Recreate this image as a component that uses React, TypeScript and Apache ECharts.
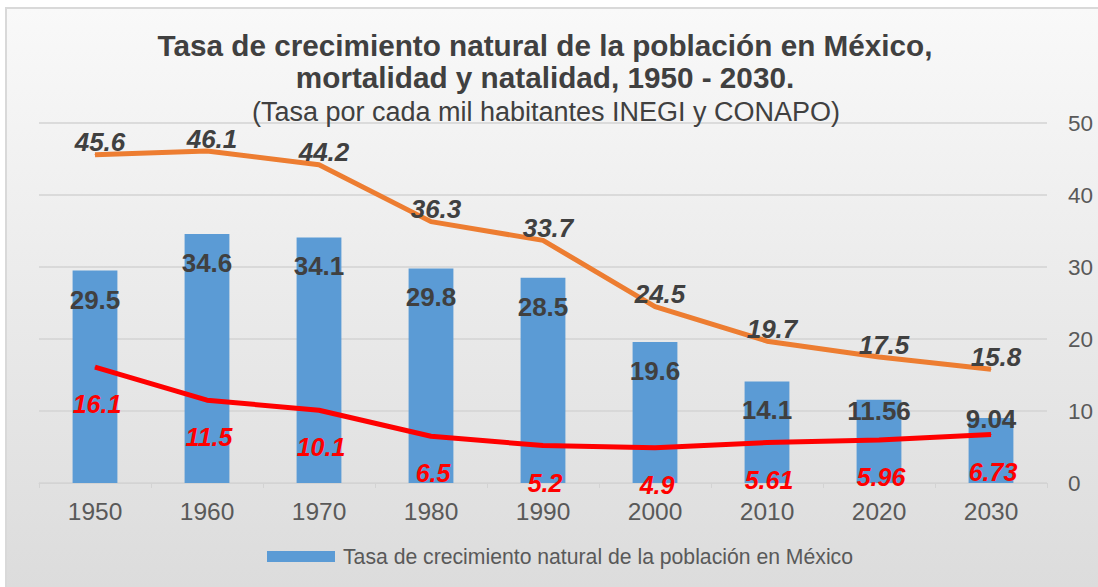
import { useEffect, useRef } from "react";
import * as echarts from "echarts";

const years = ["1950", "1960", "1970", "1980", "1990", "2000", "2010", "2020", "2030"];
const crecimiento = [29.5, 34.6, 34.1, 29.8, 28.5, 19.6, 14.1, 11.56, 9.04];
const natalidad = [45.6, 46.1, 44.2, 36.3, 33.7, 24.5, 19.7, 17.5, 15.8];
const mortalidad = [16.1, 11.5, 10.1, 6.5, 5.2, 4.9, 5.61, 5.96, 6.73];
const yMin = 0;
const yMax = 50;
const yStep = 10;

const titleLine = "Tasa de crecimiento natural de la población en México,\nmortalidad y natalidad, 1950 - 2030.";
const subtitle = "(Tasa por cada mil habitantes INEGI y CONAPO)";
const barName = "Tasa de crecimiento natural de la población en México";

// label vertical shifts (style) for bar labels
const barLabelShift = [0, 0, 0, 0, 0, 0, 0, -18, -28];

const FONT = "'Liberation Sans', Arial, sans-serif";

export default function App() {
  const ref = useRef<HTMLDivElement>(null);
  useEffect(() => {
    document.body.style.margin = "0";
    const chart = echarts.init(ref.current!, null, { renderer: "svg" });
    chart.setOption({
      animation: false,
      backgroundColor: "#ffffff",
      textStyle: { fontFamily: FONT },
      graphic: [
        {
          type: "rect",
          z: -100,
          silent: true,
          shape: { x: 6, y: 8, width: 1100, height: 600 },
          style: {
            fill: {
              type: "linear", x: 0, y: 0, x2: 0, y2: 1,
              colorStops: [
                { offset: 0, color: "#f9f9f9" },
                { offset: 1, color: "#dbdbdb" },
              ],
            },
            stroke: "#d9d9d9",
            lineWidth: 2,
          },
        },
      ],
      title: [
        {
          text: titleLine,
          left: 540,
          textAlign: "center",
          top: 24,
          textStyle: { fontFamily: FONT, fontSize: 29.7, fontWeight: "bold", color: "#404040", lineHeight: 32 },
        },
        {
          text: subtitle,
          left: 541,
          textAlign: "center",
          top: 93,
          textStyle: { fontFamily: FONT, fontSize: 27, fontWeight: "normal", color: "#404040", lineHeight: 28 },
        },
      ],
      legend: {
        data: [barName],
        left: 262,
        top: 541,
        itemWidth: 68,
        itemHeight: 11,
        icon: "rect",
        textStyle: { fontFamily: FONT, fontSize: 21.2, color: "#595959", padding: [0, 0, 0, 3] },
      },
      grid: { left: 39, right: 51, top: 123, bottom: 104, containLabel: false },
      xAxis: {
        type: "category",
        data: years,
        axisLine: { show: true, lineStyle: { color: "#d3d3d3", width: 1 } },
        axisTick: { show: true, length: 5, lineStyle: { color: "#d3d3d3" } },
        axisLabel: { fontFamily: FONT, fontSize: 24.5, color: "#595959", margin: 16 },
      },
      yAxis: {
        type: "value",
        position: "right",
        min: yMin,
        max: yMax,
        interval: yStep,
        axisLine: { show: false },
        axisTick: { show: false },
        axisLabel: { fontFamily: FONT, fontSize: 22.5, color: "#595959", margin: 21 },
        splitLine: { lineStyle: { color: "#d3d3d3", width: 1.5 } },
      },
      series: [
        {
          name: barName,
          type: "bar",
          barWidth: "40%",
          itemStyle: { color: "#5b9bd5" },
          z: 1,
          label: {
            show: true,
            position: "insideTop",
            distance: 16,
            fontFamily: FONT,
            fontSize: 26,
            fontWeight: "bold",
            color: "#404040",
          },
          data: crecimiento.map((v, i) => ({
            value: v,
            label: { offset: [0, barLabelShift[i]] },
          })),
        },
        {
          name: "Natalidad",
          type: "line",
          symbol: "circle",
          symbolSize: 1,
          z: 3,
          lineStyle: { color: "#ed7d31", width: 5 },
          itemStyle: { color: "#ed7d31" },
          label: {
            show: true,
            position: "top",
            distance: -1,
            offset: [5, 0],
            fontFamily: FONT,
            fontSize: 26,
            fontWeight: "bold",
            fontStyle: "italic",
            color: "#404040",
          },
          data: natalidad,
        },
        {
          name: "Mortalidad",
          type: "line",
          symbol: "circle",
          symbolSize: 1,
          z: 3,
          lineStyle: { color: "#ff0000", width: 5 },
          itemStyle: { color: "#ff0000" },
          label: {
            show: true,
            position: "bottom",
            distance: 24,
            offset: [2, 0],
            fontFamily: FONT,
            fontSize: 25,
            fontWeight: "bold",
            fontStyle: "italic",
            color: "#ff0000",
          },
          data: mortalidad,
        },
      ],
    });
    return () => chart.dispose();
  }, []);
  return <div ref={ref} style={{ width: 1098, height: 587 }} />;
}
